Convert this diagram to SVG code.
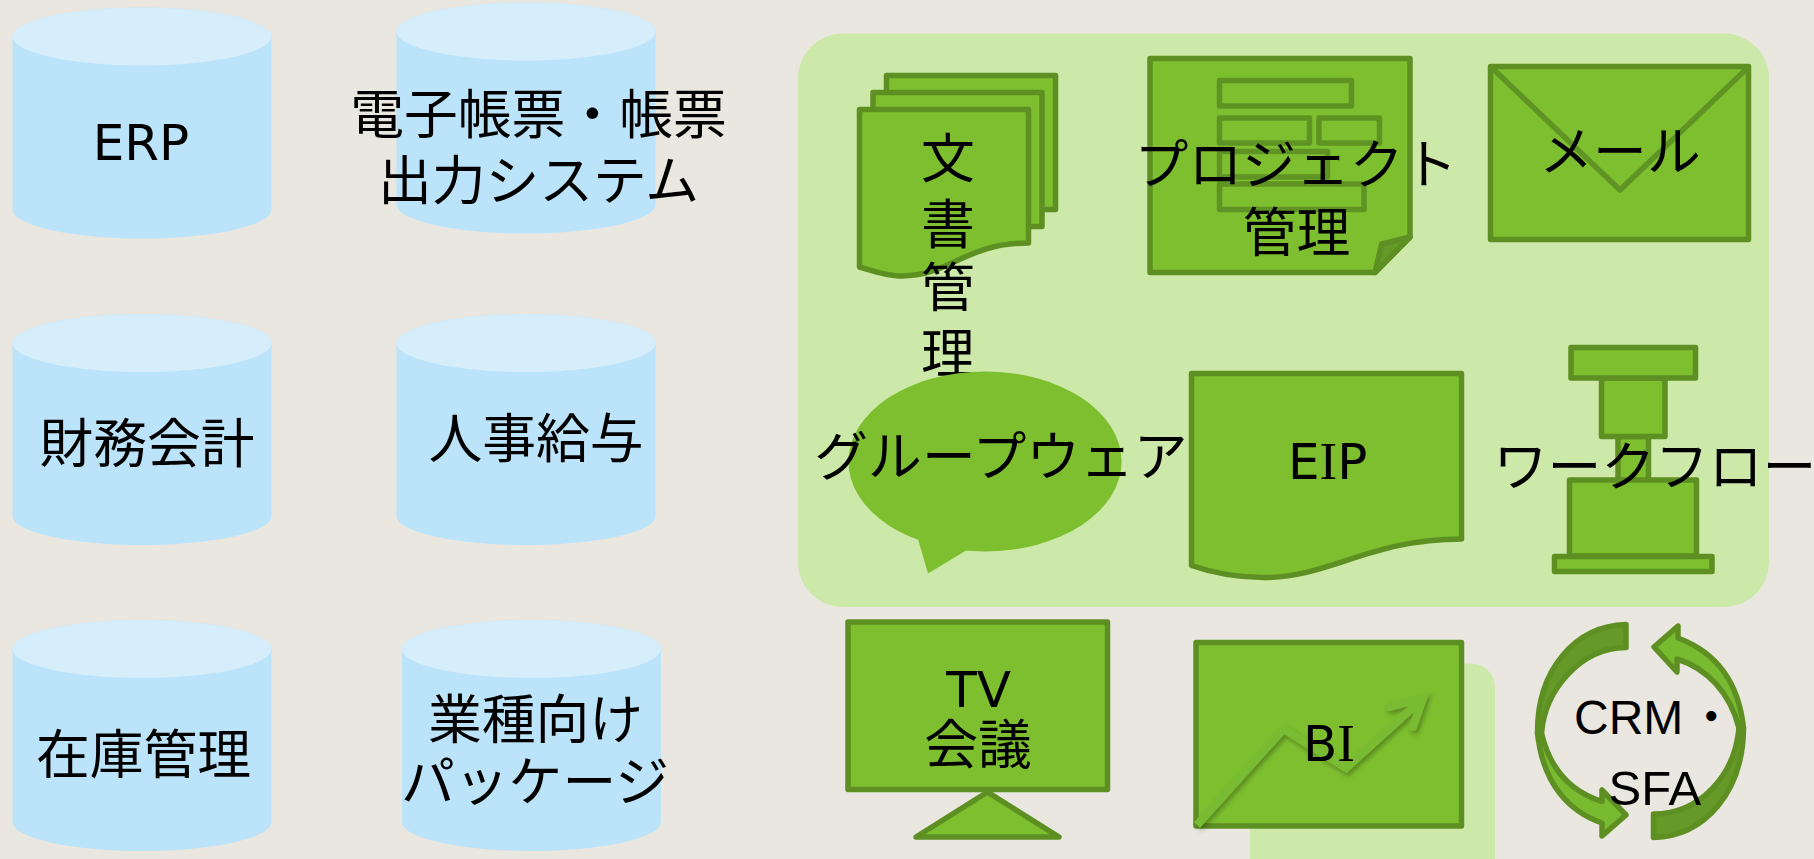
<svg xmlns="http://www.w3.org/2000/svg" width="1814" height="859" viewBox="0 0 1814 859">
<style>
text{font-family:"Noto Sans CJK JP","Noto Sans",sans-serif;font-size:53.8px;fill:#000;text-anchor:middle}
.lat{font-family:"DejaVu Sans",sans-serif;font-size:50px}
.ser{font-family:"Liberation Serif",serif;font-size:53px}
.ari{font-family:"Liberation Sans",sans-serif;font-size:48px;text-anchor:start}
.body{fill:#bbe3f9}.top{fill:#d6eefb}
.g{fill:#7dbf2f;stroke:#5e8f22;stroke-width:5.5;stroke-linejoin:round}
.in{fill:none;stroke:#5f9424;stroke-width:5.5;stroke-linejoin:round}
.dk{fill:#659a28;stroke:#5e8f22;stroke-width:5.5;stroke-linejoin:round}
.lt{fill:#79bb30;stroke:#5e8f22;stroke-width:5.5;stroke-linejoin:round}
.pale{fill:#cde9a9}
</style>
<defs>
<filter id="sh" x="-20%" y="-20%" width="150%" height="150%"><feDropShadow dx="2" dy="3" stdDeviation="2.5" flood-color="#000" flood-opacity=".3"/></filter>
<path id="cyl" class="body" d="M0,29 A129.5,29 0 0 1 259,29 V202 A129.5,29 0 0 1 0,202 Z"/>
<ellipse id="cap" class="top" cx="129.5" cy="29" rx="129.5" ry="29"/>
</defs>
<rect width="1814" height="859" fill="#e9e7e0"/>
<rect id="panel" class="pale" x="798" y="33.5" width="971" height="573.5" rx="45"/>
<rect id="bi-back" class="pale" x="1250" y="663.5" width="245" height="240" rx="24"/>
<g id="connectors"/>
<g id="erp"><use href="#cyl" x="12.5" y="7.5"/><use href="#cap" x="12.5" y="7.5"/><text class="lat" x="141" y="160">ERP</text></g>
<g id="denshi"><use href="#cyl" x="396.5" y="2.5"/><use href="#cap" x="396.5" y="2.5"/><text x="538.5" y="134">電子帳票・帳票</text><text x="538.5" y="200">出力システム</text></g>
<g id="zaimu"><use href="#cyl" x="12.5" y="314"/><use href="#cap" x="12.5" y="314"/><text x="147" y="463">財務会計</text></g>
<g id="jinji"><use href="#cyl" x="396.5" y="314"/><use href="#cap" x="396.5" y="314"/><text x="536" y="458">人事給与</text></g>
<g id="zaiko"><use href="#cyl" x="12.5" y="620"/><use href="#cap" x="12.5" y="620"/><text x="143.5" y="774">在庫管理</text></g>
<g id="gyoshu"><use href="#cyl" x="402" y="620"/><use href="#cap" x="402" y="620"/><text x="535.5" y="739">業種向け</text><text x="535" y="801">パッケージ</text></g>
<g id="bunsho">
<rect class="g" x="886.5" y="75.5" width="169" height="134"/>
<rect class="g" x="873" y="92.5" width="169" height="134"/>
<path class="g" d="M859.5,109.5 H1028.5 V243 C965,243 950,276 902,276 C888,276 873,271 859.5,267 Z"/>
<text x="948" y="178">文</text><text x="948" y="244">書</text><text x="948" y="307">管</text><text x="948" y="373">理</text>
</g>
<g id="project">
<path class="g" d="M1150,58.5 H1410 V237 L1375,272.5 H1150 Z"/>
<path class="dk" d="M1410,237 L1381.7,244 L1375,272.5 Z"/>
<rect class="in" x="1219.5" y="80.5" width="132" height="25.5"/>
<rect class="in" x="1219.5" y="118" width="90" height="25"/>
<rect class="in" x="1319" y="118" width="60.5" height="25"/>
<rect class="in" x="1219.5" y="151.5" width="108" height="25.5"/>
<rect class="in" x="1219.5" y="184" width="144.5" height="25.5"/>
<text x="1296" y="184">プロジェクト</text><text x="1296.5" y="252">管理</text>
</g>
<g id="mail">
<rect class="g" x="1490.5" y="66.5" width="258" height="173"/>
<path class="in" d="M1490.5,66.5 L1620,190 L1749,66.5"/>
<text x="1620" y="171">メール</text>
</g>
<g id="groupware">
<ellipse cx="985" cy="461.5" rx="136.6" ry="90" fill="#7dbf2f"/>
<path d="M918,539 L928,573.5 L967,550 Z" fill="#7dbf2f"/>
<text x="1001" y="476">グループウェア</text>
</g>
<g id="eip">
<path class="g" d="M1191.5,373.5 H1461.5 V539 C1370,539 1330,577.5 1264,577.5 C1235,577.5 1210,572 1191.5,565.5 Z"/>
<text class="lat" x="1288" y="478.7" style="text-anchor:start">E<tspan class="ser">I</tspan>P</text>
</g>
<g id="workflow">
<rect class="g" x="1618" y="436.5" width="30.5" height="44"/>
<rect class="g" x="1601.5" y="378" width="63.5" height="58.5"/>
<rect class="g" x="1571" y="347.5" width="124.5" height="30.5"/>
<rect class="g" x="1569.5" y="480" width="127" height="76"/>
<rect class="g" x="1554.5" y="556.5" width="157.5" height="15"/>
<text x="1655" y="486">ワークフロー</text>
</g>
<g id="tv">
<path class="g" d="M987.5,792 L1059,837 H916 Z"/>
<rect class="g" x="848" y="622" width="259.5" height="167.5"/>
<text class="lat" x="978.7" y="706.7">TV</text><text x="978" y="764">会議</text>
</g>
<g id="bi">
<rect class="g" x="1196" y="642.5" width="265.5" height="183.5"/>
<g filter="url(#sh)" fill="none" stroke="#79bb30" stroke-width="8">
<path d="M1197,825 L1283.5,729 L1346,768 L1420,701"/>
<path d="M1390,707 L1423,698 L1413,727" stroke-linecap="round"/>
</g>
<text class="lat" x="1303" y="760.7" style="text-anchor:start">B<tspan class="ser">I</tspan></text>
</g>
<g id="crm">
<path class="lt" d="M1537.5,733 C1543,785 1570,812 1602,823 V836 L1626,815 L1602,790 V801.5 C1572,792 1550,770 1541.5,733 Z"/>
<path class="lt" d="M1743.5,728 C1738,676 1710,650 1678,638 V626 L1654,647 L1677,672 V659 C1706,668 1730,692 1739,728 Z"/>
<path class="dk" d="M1626,624.5 C1575,626 1537,670 1537.5,733 L1541.5,733 C1545,690 1580,648 1626,647.5 Z"/>
<path class="dk" d="M1653.5,837.5 C1705,836 1743,792 1743.5,728 L1739,728 C1735,775 1700,814 1653.5,814 Z"/>
<text class="ari" x="1574" y="734">CRM<tspan dx="4" style="font-family:'Noto Sans CJK JP'">・</tspan></text>
<text class="ari" x="1608.5" y="805" style="font-size:49px">SFA</text>
</g>
</svg>
